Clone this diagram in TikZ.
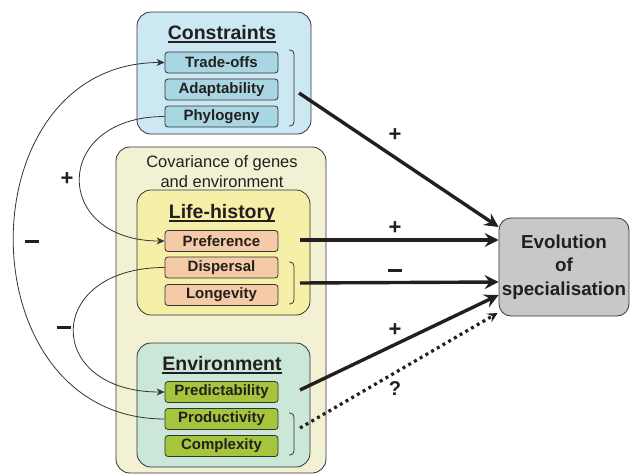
\documentclass[tikz,border=0pt]{standalone}
\usepackage{fontspec}
\setmainfont{Liberation Sans}
\usetikzlibrary{arrows.meta,calc}
\definecolor{cbg}{HTML}{CCE8F3}
\definecolor{citem}{HTML}{A8D6E3}
\definecolor{covbg}{HTML}{F3F1D4}
\definecolor{lhbg}{HTML}{F6EFA8}
\definecolor{lhitem}{HTML}{F5CBA7}
\definecolor{envbg}{HTML}{CBE7D8}
\definecolor{envitem}{HTML}{A5C53C}
\definecolor{evobg}{HTML}{C8C8CA}
\definecolor{ln}{HTML}{333333}
\definecolor{txt}{HTML}{231F20}
\newcommand\myul[1]{\setbox0=\hbox{#1}\leavevmode\rlap{\copy0}\raisebox{-3.6pt}{\rule{\wd0}{1.8pt}}}
\newcommand\mydash{\rule[5pt]{14pt}{2.8pt}}
\begin{document}
\begin{tikzpicture}[x=1pt,y=-1pt,
 grp/.style={draw=ln, line width=0.8pt, rounded corners=14pt, inner sep=0pt},
 item/.style={draw=ln, line width=0.8pt, rounded corners=3pt, minimum width=113pt, minimum height=21pt, inner sep=0pt, font=\fontsize{15}{16}\selectfont\bfseries, text=txt},
 ttl/.style={font=\fontsize{19.5}{22}\selectfont\bfseries, text=txt, inner sep=0pt},
 sgn/.style={font=\fontsize{22}{24}\selectfont\bfseries, text=txt, inner sep=0pt},
 brk/.style={draw=ln, line width=0.8pt, rounded corners=4pt},
 thin/.style={draw=ln, line width=0.8pt, -{Stealth[length=8pt,width=7pt,inset=2.5pt]}},
 big/.style={draw=txt, line width=3.4pt, -{Stealth[length=14pt,width=14pt,inset=5pt]}},
 dots/.style={draw=txt, line width=3.2pt, dash pattern=on 3pt off 3.6pt, -{Stealth[length=10pt,width=10pt,inset=4pt]}}]
\useasboundingbox (0,0) rectangle (630,474);

% group boxes
\node[grp, fill=cbg, minimum width=174pt, minimum height=122pt] (cons) at (224,73) {};
\node[grp, fill=covbg, minimum width=210pt, minimum height=326pt] (cov) at (221,310) {};
\node[grp, fill=lhbg, minimum width=173pt, minimum height=125pt] (lh) at (223.5,252.5) {};
\node[grp, fill=envbg, minimum width=173pt, minimum height=124pt] (env) at (223.5,405) {};
\node[grp, fill=evobg, minimum width=130pt, minimum height=98pt, rounded corners=12pt,
      font=\fontsize{18.8}{23.5}\selectfont\bfseries, text=txt, align=center] (evo) at (564,267) {Evolution\\of\\specialisation};

% titles
\node[ttl] (tcons) at (222,34) {\myul{Constraints}};
\node[ttl] (tlh) at (222,213) {\myul{Life-history}};
\node[ttl] (tenv) at (222,365) {\myul{Environment}};
\node[font=\fontsize{16.5}{20}\selectfont, text=txt, align=center, inner sep=0pt] (tcov) at (222,172) {Covariance of genes\\and environment};

% items
\node[item, fill=citem] (trade) at (221.5,62.5) {Trade-offs};
\node[item, fill=citem] (adapt) at (221.5,89.5) {Adaptability};
\node[item, fill=citem] (phylo) at (221.5,116.5) {Phylogeny};
\node[item, fill=lhitem] (pref) at (221.5,241) {Preference};
\node[item, fill=lhitem] (disp) at (221.5,267.5) {Dispersal};
\node[item, fill=lhitem] (longv) at (221.5,295) {Longevity};
\node[item, fill=envitem] (pred) at (221.5,392) {Predictability};
\node[item, fill=envitem] (prod) at (221.5,419) {Productivity};
\node[item, fill=envitem] (compl) at (221.5,446) {Complexity};

% brackets
\draw[brk] (289,50) -| (294,88) |- (289,126);
\draw[brk] (289,262) -| (294,283) |- (289,304);
\draw[brk] (289,413) -| (294,434) |- (289,455);
\coordinate (bcons) at (299,93);
\coordinate (blh) at (300,283);
\coordinate (benv) at (300,428);
\coordinate (bpref) at (300,240);
\coordinate (bpred) at (300,390);

% thick arrows
\draw[big] (bcons) -- ([yshift=40pt]evo.west);
\draw[big] (bpref) -- ([yshift=27pt]evo.west);
\draw[big] (blh) -- ([yshift=-15pt]evo.west);
\draw[big] (bpred) -- ([yshift=-28pt]evo.west);
\draw[dots] (benv) -- ([xshift=-1pt,yshift=-46pt]evo.west);

\node[sgn] (s1) at (395,135) {+};
\node[sgn] (s2) at (395,228) {+};
\node[sgn] (s3) at (395,273) {\mydash};
\node[sgn] (s4) at (395,330) {+};
\node[sgn, font=\fontsize{20}{22}\selectfont\bfseries] (s5) at (395,389) {?};

% thin curved arrows
\draw[thin] (phylo.west) .. controls +(-113,0) and +(-113,0) .. (pref.west);
\draw[thin] (prod.west) .. controls +(-201,0) and +(-201,0) .. (trade.west);
\draw[thin] (disp.west) .. controls +(-121,0) and +(-121,0) .. (pred.west);

\node[sgn] (l1) at (67,179) {+};
\node[sgn] (l2) at (32,244) {\mydash};
\node[sgn] (l3) at (64,330) {\mydash};
\end{tikzpicture}
\end{document}
